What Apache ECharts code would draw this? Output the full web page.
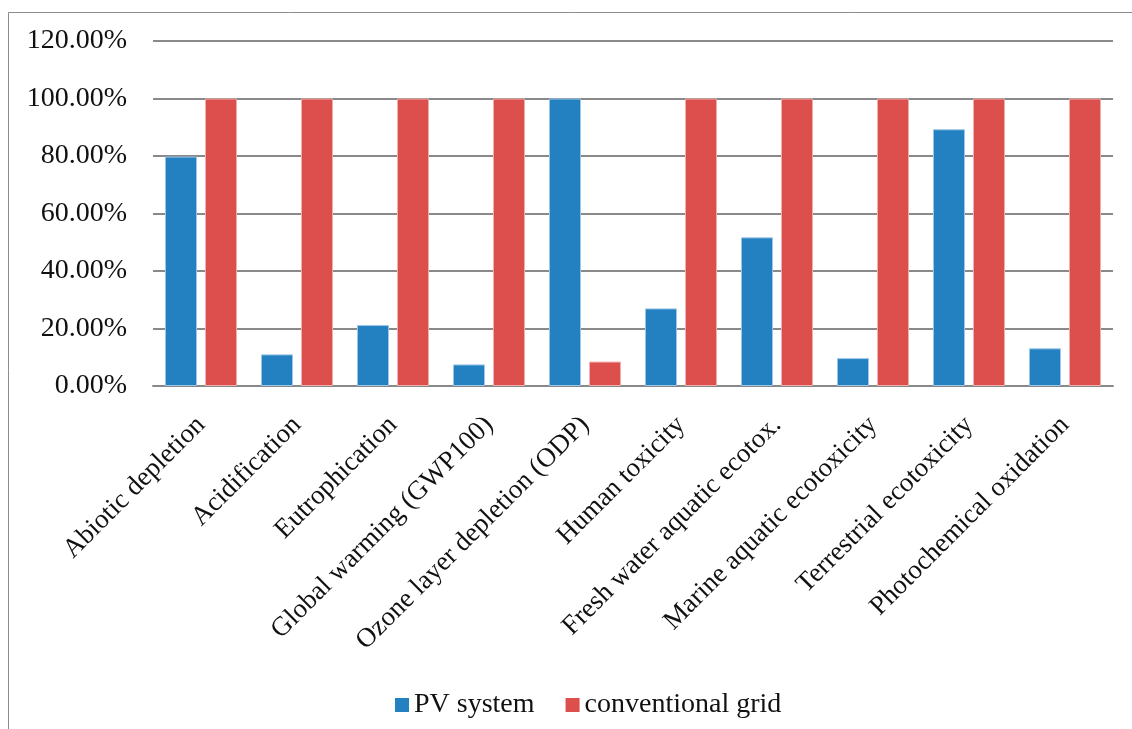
<!DOCTYPE html>
<html>
<head>
<meta charset="utf-8">
<script src="https://cdn.jsdelivr.net/npm/echarts@6/dist/echarts.min.js"></script>
<style>
  html, body { margin: 0; padding: 0; background: #fff; }
  #chart { width: 1132px; height: 729px; }
</style>
</head>
<body>
<div id="chart"></div>
<script>
// Impact categories (life-cycle assessment), relative to the highest impact
const categories = [
  'Abiotic depletion',
  'Acidification',
  'Eutrophication',
  'Global warming (GWP100)',
  'Ozone layer depletion (ODP)',
  'Human toxicity',
  'Fresh water aquatic ecotox.',
  'Marine aquatic ecotoxicity',
  'Terrestrial ecotoxicity',
  'Photochemical oxidation'
];
const pvSystem = [79.8, 11.0, 21.2, 7.5, 100, 27.0, 51.7, 9.7, 89.3, 13.1];
const conventionalGrid = [100, 100, 100, 100, 8.5, 100, 100, 100, 100, 100];
const seriesNames = ['PV system', 'conventional grid'];

const FONT = '"Liberation Serif", "DejaVu Serif", serif';

const chart = echarts.init(document.getElementById('chart'), null, { renderer: 'canvas' });
chart.setOption({
  animation: false,
  backgroundColor: '#ffffff',
  graphic: [
    {
      type: 'polyline',
      shape: { points: [[8.5, 729], [8.5, 12.5], [1132, 12.5]] },
      style: { stroke: '#8c8c8c', lineWidth: 1, fill: null }
    }
  ],
  grid: { left: 153, right: 19, top: 41, bottom: 343, containLabel: false },
  legend: {
    left: 390,
    top: 686,
    itemWidth: 14,
    itemHeight: 14,
    itemGap: 31,
    icon: 'rect',
    itemStyle: { borderWidth: 0 },
    textStyle: { fontFamily: FONT, fontSize: 28, color: '#111' },
    data: seriesNames
  },
  xAxis: {
    type: 'category',
    data: categories,
    axisLine: { show: true, lineStyle: { color: '#898989', width: 2 } },
    axisTick: { show: false },
    axisLabel: {
      interval: 0,
      rotate: 45,
      margin: 35,
      fontFamily: FONT,
      fontSize: 27,
      color: '#111'
    }
  },
  yAxis: {
    type: 'value',
    min: 0,
    max: 120,
    interval: 20,
    axisLine: { show: false },
    axisTick: { show: false },
    splitLine: { lineStyle: { color: '#898989', width: 2 } },
    axisLabel: {
      margin: 26,
      fontFamily: FONT,
      fontSize: 28,
      color: '#111',
      formatter: v => v.toFixed(2) + '%'
    }
  },
  series: [
    {
      name: seriesNames[0],
      type: 'bar',
      data: pvSystem,
      barWidth: 32,
      barGap: '25%',
      itemStyle: { color: '#2381c1', borderColor: '#9cc6e6', borderWidth: 1 }
    },
    {
      name: seriesNames[1],
      type: 'bar',
      data: conventionalGrid,
      barWidth: 32,
      barGap: '25%',
      itemStyle: { color: '#dd4f4d', borderColor: '#f0aeae', borderWidth: 1 }
    }
  ]
});
</script>
</body>
</html>
